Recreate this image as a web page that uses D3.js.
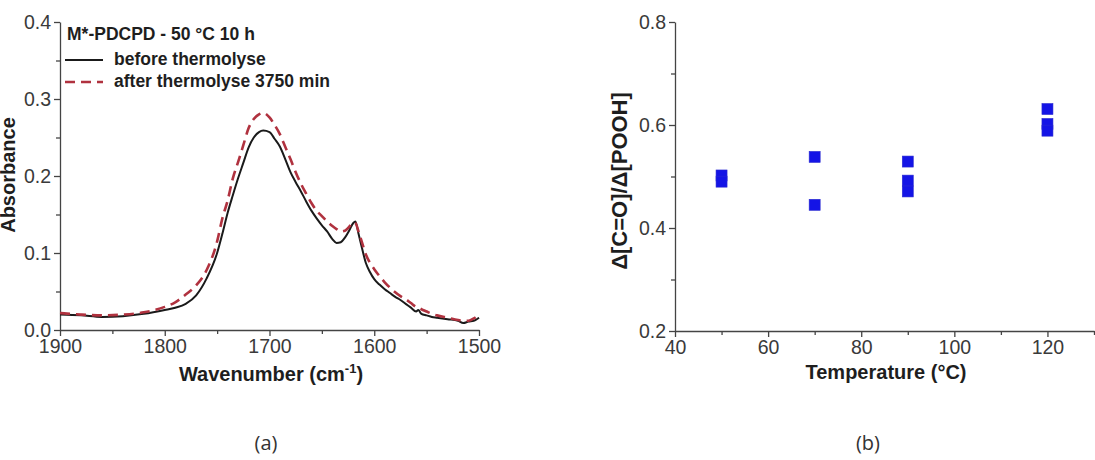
<!DOCTYPE html>
<html>
<head>
<meta charset="utf-8">
<script src="https://cdn.jsdelivr.net/npm/d3@7"></script>
<style>
  body { margin: 0; background: #fff; }
  svg { display: block; font-family: "Liberation Sans", Arial, sans-serif; }
</style>
</head>
<body>
<svg id="chart" width="1095" height="460"></svg>
<script>
// ---- data (a): IR spectra ----
const wavenumbers = [1900, 1880, 1860, 1840, 1820, 1800, 1790, 1780, 1770, 1760, 1750, 1745, 1740, 1735, 1730,
    1725, 1720, 1715, 1710, 1706, 1700, 1695, 1690, 1685, 1680, 1675, 1670, 1665, 1660, 1655, 1650, 1645,
    1640, 1636, 1632, 1628, 1624, 1620, 1618, 1615, 1612, 1608, 1604, 1600, 1595, 1590, 1585, 1580, 1575,
    1570, 1565, 1560, 1558, 1555, 1550, 1545, 1540, 1530, 1520, 1515, 1510, 1505, 1500];
const absBefore = [0.020, 0.019, 0.017, 0.018, 0.021, 0.026, 0.029, 0.034, 0.045, 0.067, 0.100, 0.125, 0.152, 0.175, 0.197,
    0.217, 0.237, 0.250, 0.257, 0.259, 0.257, 0.248, 0.238, 0.222, 0.205, 0.192, 0.180, 0.167, 0.155, 0.145, 0.136, 0.128,
    0.118, 0.113, 0.114, 0.120, 0.129, 0.139, 0.141, 0.125, 0.108, 0.087, 0.075, 0.066, 0.059, 0.053, 0.048, 0.043, 0.039,
    0.034, 0.029, 0.024, 0.026, 0.021, 0.019, 0.017, 0.016, 0.014, 0.012, 0.009, 0.011, 0.012, 0.016];
const absAfter = [0.022, 0.020, 0.019, 0.020, 0.023, 0.030, 0.036, 0.046, 0.058, 0.078, 0.115, 0.145, 0.168, 0.197, 0.218,
    0.240, 0.262, 0.274, 0.280, 0.282, 0.276, 0.266, 0.254, 0.238, 0.222, 0.205, 0.190, 0.177, 0.165, 0.155, 0.148, 0.141,
    0.135, 0.131, 0.128, 0.129, 0.134, 0.140, 0.139, 0.128, 0.115, 0.098, 0.087, 0.079, 0.070, 0.062, 0.055, 0.049, 0.044,
    0.040, 0.035, 0.030, 0.029, 0.027, 0.024, 0.021, 0.019, 0.016, 0.013, 0.012, 0.012, 0.015, 0.020];
const seriesNames = ["before thermolyse", "after thermolyse 3750 min"];
const spectraTitle = "M*-PDCPD - 50 °C 10 h";
const wnTicks = [1900, 1800, 1700, 1600, 1500];
const absTicks = [0.0, 0.1, 0.2, 0.3, 0.4];

// ---- data (b): ratio vs temperature ----
const temperatures = [50, 50, 70, 70, 90, 90, 90, 120, 120, 120];
const ratios = [0.502, 0.490, 0.538, 0.445, 0.529, 0.492, 0.471, 0.631, 0.602, 0.589];
const tempTicks = [40, 60, 80, 100, 120];
const ratioTicks = [0.2, 0.4, 0.6, 0.8];

const svg = d3.select("#chart");
const tickColor = "#3a3a3a";
const titleColor = "#1e1e1e";

// draws an axis with major + minor ticks
function drawAxis(g, axisFn, scale, major, minor, fmt) {
    g.append("g").call(axisFn(scale).tickValues(minor).tickSize(4).tickFormat("").tickSizeOuter(0))
        .call(s => s.select(".domain").remove());
    const a = g.append("g").call(axisFn(scale).tickValues(major).tickSize(6).tickSizeOuter(0).tickFormat(fmt).tickPadding(3));
    a.selectAll("text").style("font-size", "19.5px").attr("fill", tickColor);
    g.selectAll("line, path").attr("stroke", "#444").attr("stroke-width", 1.3);
    return a;
}

// ---------- panel (a) ----------
const xA = d3.scaleLinear().domain([1900, 1500]).range([60, 479]);
const yA = d3.scaleLinear().domain([0, 0.4]).range([330, 22]);

drawAxis(svg.append("g").attr("transform", `translate(0,${yA(0)})`), d3.axisBottom, xA,
    wnTicks, d3.range(1850, 1500, -100), d3.format("d"));
drawAxis(svg.append("g").attr("transform", `translate(${xA(1900)},0)`), d3.axisLeft, yA,
    absTicks, [0.05, 0.15, 0.25, 0.35], d3.format(".1f"));

const line = vals => d3.line()
    .x((d, i) => xA(wavenumbers[i]))
    .y(d => yA(d))
    .curve(d3.curveMonotoneX)(vals);

svg.append("path").attr("d", line(absBefore))
    .attr("fill", "none").attr("stroke", "#1a1a1a").attr("stroke-width", 2);
svg.append("path").attr("d", line(absAfter))
    .attr("fill", "none").attr("stroke", "#b0323f").attr("stroke-width", 2.6)
    .attr("stroke-dasharray", "10,6");

// legend
svg.append("text").attr("x", 67).attr("y", 40).text(spectraTitle)
    .style("font-size", "17.5px").style("font-weight", "bold").attr("fill", titleColor);
const legendRows = [{ color: "#1a1a1a", dash: null, w: 2 }, { color: "#b0323f", dash: "10,6", w: 2.6 }];
legendRows.forEach((r, i) => {
    const y = 60 + i * 22;
    svg.append("line").attr("x1", 65).attr("x2", 103).attr("y1", y).attr("y2", y)
        .attr("stroke", r.color).attr("stroke-width", r.w).attr("stroke-dasharray", r.dash);
    svg.append("text").attr("x", 114).attr("y", y + 5).text(seriesNames[i])
        .style("font-size", "17.5px").style("font-weight", "bold").attr("fill", titleColor);
});

// axis titles
svg.append("text").attr("transform", "translate(15,175) rotate(-90)").attr("text-anchor", "middle")
    .style("font-size", "20px").style("font-weight", "bold").attr("fill", titleColor).text("Absorbance");
const xt = svg.append("text").attr("x", 271).attr("y", 381).attr("text-anchor", "middle")
    .style("font-size", "20px").style("font-weight", "bold").attr("fill", titleColor);
xt.append("tspan").text("Wavenumber (cm");
xt.append("tspan").attr("dy", -8).style("font-size", "13px").text("-1");
xt.append("tspan").attr("dy", 8).text(")");

// ---------- panel (b) ----------
const xB = d3.scaleLinear().domain([40, 130]).range([675, 1094]);
const yB = d3.scaleLinear().domain([0.2, 0.8]).range([331, 22]);

drawAxis(svg.append("g").attr("transform", `translate(0,${yB(0.2)})`), d3.axisBottom, xB,
    tempTicks, [50, 70, 90, 110, 130], d3.format("d"));
drawAxis(svg.append("g").attr("transform", `translate(${xB(40)},0)`), d3.axisLeft, yB,
    ratioTicks, [0.3, 0.5, 0.7], d3.format(".1f"));

const sq = 11;
svg.append("g").selectAll("rect")
    .data(temperatures.map((t, i) => ({ t, r: ratios[i] })))
    .join("rect")
    .attr("x", d => xB(d.t) - sq / 2)
    .attr("y", d => yB(d.r) - sq / 2)
    .attr("width", sq).attr("height", sq)
    .attr("fill", "#1414e6").attr("stroke", "#2a2ad0").attr("stroke-width", 0.6);

svg.append("text").attr("transform", "translate(627,181) rotate(-90)").attr("text-anchor", "middle")
    .style("font-size", "22px").style("font-weight", "bold").attr("fill", titleColor).text("Δ[C=O]/Δ[POOH]");
svg.append("text").attr("x", 886).attr("y", 379).attr("text-anchor", "middle")
    .style("font-size", "20px").style("font-weight", "bold").attr("fill", titleColor).text("Temperature (°C)");

// captions
svg.selectAll("text.caption").data(["(a)", "(b)"]).join("text")
    .attr("class", "caption")
    .attr("x", (d, i) => [266, 868][i]).attr("y", 450).attr("text-anchor", "middle")
    .style("font-family", "'Open Sans', sans-serif").style("font-size", "20px").attr("fill", "#333")
    .text(d => d);
</script>
</body>
</html>
